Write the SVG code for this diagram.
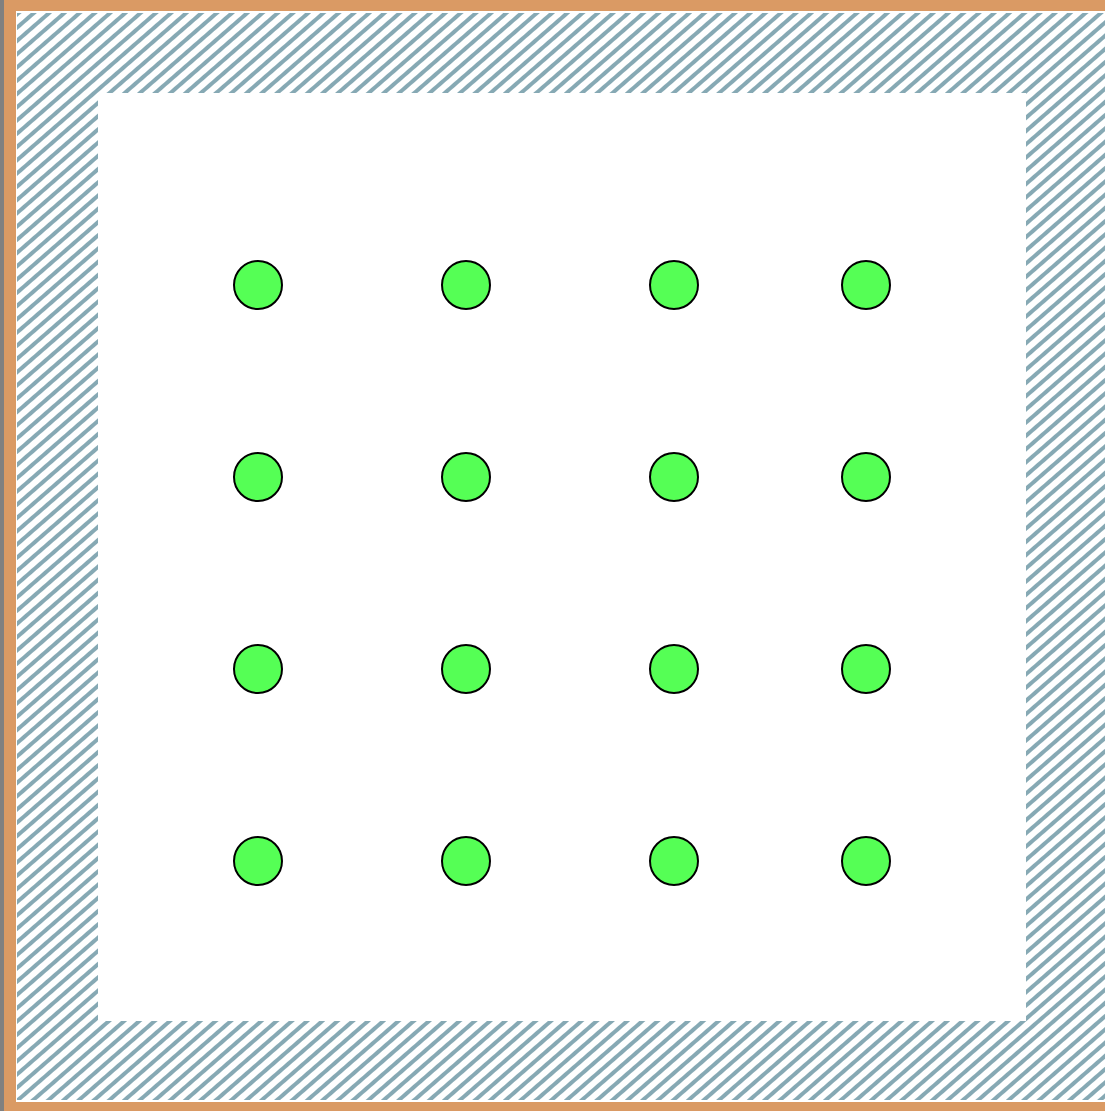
<svg xmlns="http://www.w3.org/2000/svg" width="1105" height="1111" viewBox="0 0 1105 1111">
  <style>
    .dot { fill: #55ff55; stroke: #000000; stroke-width: 2; }
  </style>
  <defs>
    <pattern id="hatch" patternUnits="userSpaceOnUse" width="10" height="10" patternTransform="rotate(-41)">
      <rect x="0" y="0" width="10" height="4" fill="#86a9b4"/>
    </pattern>
  </defs>
  <rect x="0" y="0" width="1105" height="1111" fill="#ffffff"/>
  <g id="frame">
    <rect x="0" y="0" width="4" height="1111" fill="#808080"/>
    <rect x="4" y="0" width="12" height="1111" fill="#da9a64"/>
    <rect x="4" y="0" width="1101" height="11" fill="#da9a64"/>
    <rect x="4" y="1102" width="1101" height="9" fill="#da9a64"/>
    <path d="M17,13 H1105 V1100 H17 Z M98,93 V1021 H1026 V93 Z" fill="url(#hatch)" fill-rule="evenodd"/>
  </g>
  <g id="nodes">
    <g id="n-0-0"><circle class="dot" cx="258" cy="285" r="24"/></g>
    <g id="n-0-1"><circle class="dot" cx="466" cy="285" r="24"/></g>
    <g id="n-0-2"><circle class="dot" cx="674" cy="285" r="24"/></g>
    <g id="n-0-3"><circle class="dot" cx="866" cy="285" r="24"/></g>
    <g id="n-1-0"><circle class="dot" cx="258" cy="477" r="24"/></g>
    <g id="n-1-1"><circle class="dot" cx="466" cy="477" r="24"/></g>
    <g id="n-1-2"><circle class="dot" cx="674" cy="477" r="24"/></g>
    <g id="n-1-3"><circle class="dot" cx="866" cy="477" r="24"/></g>
    <g id="n-2-0"><circle class="dot" cx="258" cy="669" r="24"/></g>
    <g id="n-2-1"><circle class="dot" cx="466" cy="669" r="24"/></g>
    <g id="n-2-2"><circle class="dot" cx="674" cy="669" r="24"/></g>
    <g id="n-2-3"><circle class="dot" cx="866" cy="669" r="24"/></g>
    <g id="n-3-0"><circle class="dot" cx="258" cy="861" r="24"/></g>
    <g id="n-3-1"><circle class="dot" cx="466" cy="861" r="24"/></g>
    <g id="n-3-2"><circle class="dot" cx="674" cy="861" r="24"/></g>
    <g id="n-3-3"><circle class="dot" cx="866" cy="861" r="24"/></g>
  </g>
  <g id="connectors"></g>
</svg>
